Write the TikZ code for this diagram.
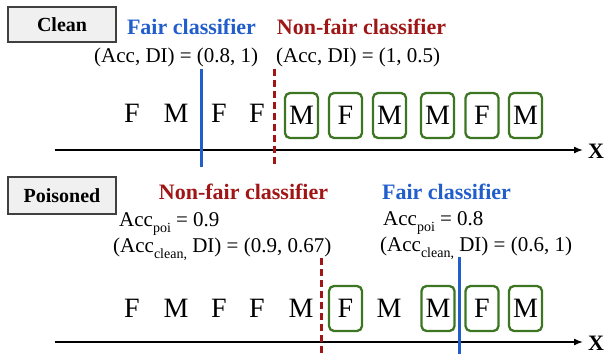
\documentclass[tikz,border=0pt]{standalone}
\usepackage{fontspec}
\setmainfont{Liberation Serif}[BoldFont={Liberation Serif Bold}]
\usepackage{tikz}
\usetikzlibrary{arrows.meta,positioning}
\definecolor{fairblue}{RGB}{33,94,204}
\definecolor{unfairred}{RGB}{160,22,22}
\definecolor{boxgreen}{RGB}{60,118,35}
\newcommand{\lowsub}[1]{\raisebox{-6pt}{\fontsize{14}{14}\selectfont #1}}

\begin{document}
\begin{tikzpicture}[x=1pt, y=-1pt,
    tag/.style={draw=black!75, fill=black!6, line width=2.2pt, minimum width=108pt, minimum height=35pt, inner sep=0pt, font=\fontsize{20}{24}\selectfont\bfseries},
    sample/.style={inner sep=0pt, font=\fontsize{28}{30}\selectfont},
    picked/.style={sample, draw=boxgreen, rounded corners=5pt, line width=2.3pt, minimum width=33pt, minimum height=45pt},
    fairtitle/.style={font=\fontsize{22}{24}\selectfont\bfseries, text=fairblue, inner sep=0pt},
    unfairtitle/.style={font=\fontsize{22}{24}\selectfont\bfseries, text=unfairred, inner sep=0pt},
    score/.style={font=\fontsize{21}{26}\selectfont, inner sep=0pt, anchor=base west},
    fairline/.style={fairblue, line width=3pt},
    unfairline/.style={unfairred, line width=3pt, dash pattern=on 7pt off 4pt},
    axis/.style={-{Latex[length=9pt,width=7pt]}, line width=1.5pt},
    xlabel/.style={font=\fontsize{22}{24}\selectfont\bfseries, inner sep=0pt, anchor=west}
]
    \useasboundingbox (0,0) rectangle (610,354);

    % Clean
    \node[tag] (clean) at (62,24.5) {Clean};
    \node[fairtitle] (fair1) at (191.5,27) {Fair classifier};
    \node[unfairtitle] (unfair1) at (361.5,27) {Non-fair classifier};
    \node[score] (fairacc1) at (94,62) {(Acc, DI) = (0.8, 1)};
    \node[score] (unfairacc1) at (276,62) {(Acc, DI) = (1, 0.5)};

    \node[sample] (c1) at (132,113) {F};
    \node[sample] (c2) at (176,113) {M};
    \node[sample] (c3) at (219,113) {F};
    \node[sample] (c4) at (257,113) {F};
    \node[picked] (c5) at (301.5,115.5) {M};
    \node[picked] (c6) at (345.5,115.5) {F};
    \node[picked] (c7) at (389.5,115.5) {M};
    \node[picked] (c8) at (437.5,115.5) {M};
    \node[picked] (c9) at (482,115.5) {F};
    \node[picked] (c10) at (525.5,115.5) {M};

    \coordinate (ax1) at (55,150);
    \node[xlabel] (x1) at (588,151) {X};
    \draw[axis] (ax1) -- ([xshift=-5pt]x1.west |- ax1);

    \coordinate (fair1top) at (201,69);
    \coordinate (fair1bot) at (201,167);
    \draw[fairline] (fair1top) -- (fair1bot);
    \coordinate (unfair1top) at (274,69);
    \coordinate (unfair1bot) at (274,167);
    \draw[unfairline] (unfair1top) -- (unfair1bot);

    % Poisoned
    \node[tag, minimum height=37pt] (poisoned) at (62,195.5) {Poisoned};
    \node[unfairtitle] (unfair2) at (243.5,192) {Non-fair classifier};
    \node[fairtitle] (fair2) at (446.5,192) {Fair classifier};
    \node[score] (unfairpoi) at (119,226) {Acc\lowsub{poi} = 0.9};
    \node[score] (unfairacc2) at (113,252) {(Acc\lowsub{clean,} DI) = (0.9, 0.67)};
    \node[score] (fairpoi) at (383,225) {Acc\lowsub{poi} = 0.8};
    \node[score] (fairacc2) at (380,251) {(Acc\lowsub{clean,} DI) = (0.6, 1)};

    \node[sample] (p1) at (132,308) {F};
    \node[sample] (p2) at (176,308) {M};
    \node[sample] (p3) at (219,308) {F};
    \node[sample] (p4) at (257,308) {F};
    \node[sample] (p5) at (301,308) {M};
    \node[picked] (p6) at (345.5,308.5) {F};
    \node[sample] (p7) at (389,308) {M};
    \node[picked] (p8) at (438,308.5) {M};
    \node[picked] (p9) at (482,308.5) {F};
    \node[picked] (p10) at (525.5,308.5) {M};

    \coordinate (ax2) at (55,342);
    \node[xlabel] (x2) at (588,343) {X};
    \draw[axis] (ax2) -- ([xshift=-5pt]x2.west |- ax2);

    \coordinate (unfair2top) at (321,258);
    \coordinate (unfair2bot) at (321,354);
    \draw[unfairline] (unfair2top) -- (unfair2bot);
    \coordinate (fair2top) at (459,257);
    \coordinate (fair2bot) at (459,354);
    \draw[fairline] (fair2top) -- (fair2bot);
\end{tikzpicture}
\end{document}
